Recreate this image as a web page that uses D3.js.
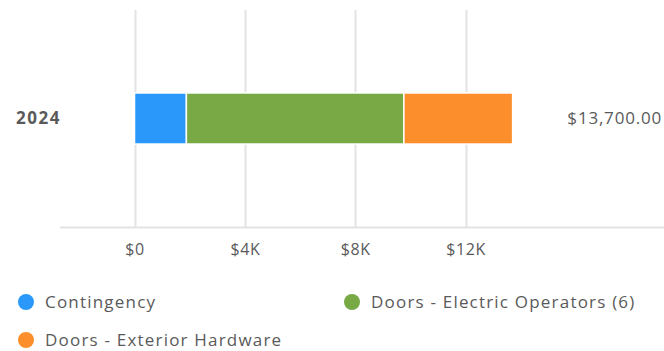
<!DOCTYPE html>
<html><head><meta charset="utf-8">
<script src="https://cdn.jsdelivr.net/npm/d3@7"></script>
<style>html,body{margin:0;padding:0;background:#fff;}svg{display:block;}</style>
</head><body>
<svg id="c" width="664" height="351"></svg>
<script>
const categories = ["2024"];
const seriesNames = ["Contingency", "Doors - Electric Operators (6)", "Doors - Exterior Hardware"];
const seriesColors = ["#2a98fa", "#78a945", "#fc8f2c"];
const contingency = [1880];
const electricOperators = [7880];
const exteriorHardware = [3940];
const totalLabels = ["$13,700.00"];
const tickValues = [0, 4000, 8000, 12000];
const tickLabels = ["$0", "$4K", "$8K", "$12K"];

const FONT = "'Open Sans', sans-serif";
const TXT = "#5a5a5a";
const svg = d3.select("#c");
const x = d3.scaleLinear().domain([0, 20000]).range([134.5, 686.5]);
const y = d3.scaleBand().domain(categories).range([10, 227]).padding(0.619);

const rows = categories.map((c, i) => ({cat: c, "Contingency": contingency[i], "Doors - Electric Operators (6)": electricOperators[i], "Doors - Exterior Hardware": exteriorHardware[i]}));
const stacked = d3.stack().keys(seriesNames)(rows);

// grid
svg.append("g").selectAll("line").data(tickValues).join("line")
  .attr("x1", d => Math.round(x(d)) + 0.5).attr("x2", d => Math.round(x(d)) + 0.5)
  .attr("y1", 10).attr("y2", 227)
  .attr("stroke", "#e3e3e3").attr("stroke-width", 2);

// axis line
svg.append("line").attr("x1", 60).attr("x2", 664).attr("y1", 227.5).attr("y2", 227.5)
  .attr("stroke", "#e3e3e3").attr("stroke-width", 2);

// bars
stacked.forEach((s, k) => {
  svg.append("g").selectAll("rect").data(s).join("rect")
    .attr("x", d => x(d[0])).attr("width", d => x(d[1]) - x(d[0]))
    .attr("y", (d, i) => y(categories[i])).attr("height", y.bandwidth())
    .attr("fill", seriesColors[k]).attr("stroke", "#fff").attr("stroke-width", 1.5);
});

// tick labels
const ax = svg.append("g").attr("transform", "translate(0,227)")
  .call(d3.axisBottom(x).tickValues(tickValues).tickFormat((d, i) => tickLabels[i]).tickSize(0).tickPadding(17));
ax.select(".domain").remove();
ax.selectAll("text").attr("font-family", FONT).attr("font-size", 16).attr("letter-spacing", 0.6).attr("fill", TXT);

// category labels
const ya = svg.append("g").attr("transform", "translate(61,0)")
  .call(d3.axisLeft(y).tickSize(0).tickPadding(0));
ya.select(".domain").remove();
ya.selectAll("text").attr("font-family", FONT).attr("font-size", 17).attr("font-weight", 700).attr("letter-spacing", 1.5).attr("fill", TXT);

// total labels
svg.append("g").selectAll("text").data(categories).join("text")
  .attr("x", 662).attr("y", d => y(d) + y.bandwidth() / 2).attr("dy", "0.35em")
  .attr("text-anchor", "end").attr("font-family", FONT).attr("font-size", 17).attr("letter-spacing", 0.8).attr("fill", TXT)
  .text((d, i) => totalLabels[i]);

// legend
const legPos = [[26, 302], [352, 302], [26, 340]];
const leg = svg.append("g").selectAll("g").data(seriesNames).join("g")
  .attr("transform", (d, i) => `translate(${legPos[i][0]},${legPos[i][1]})`);
leg.append("circle").attr("r", 8).attr("fill", (d, i) => seriesColors[i]);
leg.append("text").attr("x", 19).attr("dy", "0.35em").attr("font-family", FONT).attr("font-size", 17).attr("letter-spacing", 1.2).attr("fill", TXT).text(d => d);
</script>
</body></html>
